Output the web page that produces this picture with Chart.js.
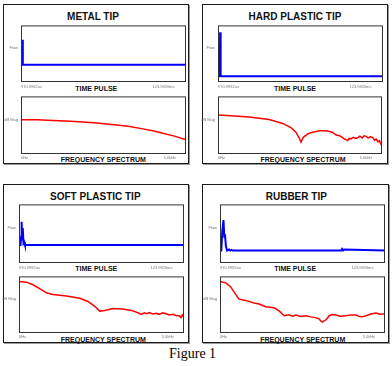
<!DOCTYPE html>
<html><head><meta charset="utf-8">
<script src="https://cdn.jsdelivr.net/npm/chart.js@4.4.0/dist/chart.umd.min.js"></script>
<style>
body{margin:0;width:392px;height:366px;background:#fff;position:relative;overflow:hidden;font-family:"Liberation Sans",Arial,sans-serif}
.panel{position:absolute;border:1px solid #1a1a1a;box-shadow:1px 1px 0 #9a9a9a;box-sizing:border-box}
.t{position:absolute;font-weight:bold;white-space:nowrap;line-height:1;transform:translateX(-50%);color:#111}
canvas{position:absolute}
</style></head><body>
<div class="panel" style="left:3px;top:4px;width:186px;height:160px"></div>
<div class="panel" style="left:202px;top:4px;width:186px;height:160px"></div>
<div class="panel" style="left:3px;top:184px;width:186px;height:159px"></div>
<div class="panel" style="left:202px;top:184px;width:187px;height:159px"></div>
<div id="texts"></div>
<script>
// ---- DATA ----
const panelTitles = ["METAL TIP", "HARD PLASTIC TIP", "SOFT PLASTIC TIP", "RUBBER TIP"];
const timeAxisTitle = "TIME PULSE";
const freqAxisTitle = "FREQUENCY SPECTRUM";
const figureCaption = "Figure 1";
const timeYLabel = "Flow";
const freqYLabel = "dB Mag";
const timeTickLabels = ["970.9982us", "123.9826ms"];
const freqTickLabels = ["0Hz", "5.0kHz"];

// time pulse (x: % of record, y: % of axis height)
const metalTimeX = [0, 0.8, 1.0, 1.2, 1.5, 100];
const metalTimeY = [30.5, 30.5, 74.6, 30.5, 30.5, 30.5];
const hardTimeX = [0, 1.0, 1.3, 1.6, 100];
const hardTimeY = [10.2, 10.2, 88, 10.2, 10.2];
const softTimeX = [0, 0.9, 1.3, 1.6, 1.9, 2.3, 2.7, 3.1, 3.6, 100];
const softTimeY = [30.7, 30.7, 45, 70.5, 40, 59.5, 34, 36, 30.7, 30.7];
const rubberTimeX = [0, 0.8, 1.4, 2.1, 2.6, 3.0, 3.6, 4.3, 5.5, 6.2, 7.0, 7.8, 73.5, 74.0, 74.6, 75.2, 100];
const rubberTimeY = [21.3, 21.3, 55, 73.3, 45, 49, 28, 21.3, 23, 21.3, 22.5, 21.3, 21.3, 24, 21.3, 23, 21.3];

// frequency spectrum (x: % of band, y: relative dB, % of axis height)
const metalFreqX = [0, 10, 19.4, 30, 40, 45.9, 58, 65, 72.1, 80, 86, 93, 100];
const metalFreqY = [59.5, 59.3, 58.3, 57, 55, 53.8, 50.5, 48, 44.5, 40.5, 36.2, 31, 24.5];
const hardFreqX = [0, 7.8, 19, 31.2, 39.4, 44.5, 47.6, 49.6, 50.6, 52, 54.7, 57, 59.8, 62, 65.9, 68, 70, 72, 74.1, 76, 77.1, 78, 79.1, 80, 81.1, 82.5, 84, 85.3, 86.5, 88, 89, 90.4, 91.5, 93, 94.5, 95.5, 96.5, 97.6, 98.5, 99.6];
const hardFreqY = [67.5, 66.5, 64.2, 59.8, 53.1, 45.7, 37.4, 27.3, 20.6, 29, 34.7, 37.5, 39, 40.5, 40.2, 39, 37.4, 33, 31.8, 28.5, 26.3, 25, 23.5, 27, 26.3, 29, 27, 28.5, 31, 28, 31.5, 30.7, 27.5, 30, 28, 24, 26, 21, 23, 15.1];
const softFreqX = [0, 4.5, 8.5, 12.5, 16.6, 20.6, 28.7, 36.8, 41.8, 45.9, 48.9, 51.9, 57, 63, 68.1, 72.1, 74, 76, 77.2, 79, 81, 83.3, 85, 87, 89.3, 91, 93.3, 95, 97.4, 98.2, 99, 99.8];
const softFreqY = [91, 89.8, 85.2, 78.4, 71, 68.1, 65.4, 61.3, 55.7, 47.2, 38.7, 39.9, 43.3, 42.6, 39.9, 35.8, 33, 35.5, 34.1, 36, 33.5, 34.8, 33, 35.5, 34.1, 32, 33, 31, 30.2, 27.3, 31.9, 29];
const rubberFreqX = [0, 3.5, 6.5, 9.1, 11.5, 15.6, 20.6, 23.7, 27.7, 32.8, 35.8, 38.9, 41.9, 44, 46, 49, 52, 55, 57.1, 60.1, 61.2, 62.2, 63.2, 64.2, 66.2, 68, 70.2, 73, 76.3, 79, 82.4, 84.5, 86.4, 88.5, 91.5, 94.5, 97, 99.6];
const rubberFreqY = [91, 88.6, 81.4, 70, 59.8, 57.6, 53, 51.3, 46.3, 44.6, 39, 30.5, 32.2, 29.5, 31.7, 29, 30.5, 28.5, 27.6, 24.9, 21, 19.2, 22, 23.2, 30.5, 32.5, 31.7, 29.5, 30.5, 32, 31.7, 29, 28.8, 30.5, 33.4, 35.1, 33, 33.4];

const timeLabelValue = 60;
const freqLabelValue = 60;
const timeTickValues = [0, 93];
const freqTickValues = [0, 94];

// ---- LAYOUT ----
const FONT = '"Liberation Sans", Arial, sans-serif';
const frame = {
  id: 'frame',
  afterDraw(chart) {
    const a = chart.chartArea, c = chart.ctx;
    c.save(); c.strokeStyle = '#333'; c.lineWidth = 1;
    c.strokeRect(a.left + 0.5, a.top + 0.5, a.right - a.left - 1, a.bottom - a.top - 1);
    c.restore();
  }
};

function makeChart(box, xs, ys, color, lw, yLabel, yVal, xLabels, xVals, xPad) {
  const [pl, pt, pr, pb] = box;
  const cv = document.createElement('canvas');
  const W = pr - pl + 23, H = pb - pt + 12;
  cv.width = W; cv.height = H;
  cv.style.left = (pl - 20) + 'px'; cv.style.top = (pt - 3) + 'px';
  cv.style.width = W + 'px'; cv.style.height = H + 'px';
  document.body.appendChild(cv);
  new Chart(cv, {
    type: 'line',
    data: { datasets: [{ data: xs.map((x, i) => ({ x, y: ys[i] })), borderColor: color, borderWidth: lw, pointRadius: 0, tension: 0, fill: false }] },
    options: {
      responsive: false, animation: false, devicePixelRatio: 1, events: [],
      layout: { padding: { left: 0, top: 3, right: 3, bottom: 0 } },
      plugins: { legend: { display: false }, tooltip: { enabled: false } },
      scales: {
        x: {
          type: 'linear', min: 0, max: 100,
          grid: { display: false, drawTicks: false }, border: { display: false },
          ticks: { autoSkip: false, maxRotation: 0, align: 'inner', padding: xPad, color: '#777', font: { size: 4, family: FONT },
            callback: (v, i) => xLabels[i] },
          afterBuildTicks: s => { s.ticks = xVals.map(v => ({ value: v })); },
          afterFit: s => { s.height = 9; }
        },
        y: {
          min: 0, max: 100,
          grid: { display: false, drawTicks: false }, border: { display: false },
          ticks: { padding: 3, color: '#777', font: { size: 4, family: FONT }, callback: () => yLabel },
          afterBuildTicks: s => { s.ticks = [{ value: yVal }]; },
          afterFit: s => { s.width = 20; }
        }
      }
    },
    plugins: [frame]
  });
}

const BLUE = '#0000ff', RED = '#ff0000';
makeChart([21, 23, 186, 82], metalTimeX, metalTimeY, BLUE, 2, timeYLabel, timeLabelValue, timeTickLabels, timeTickValues, 2);
makeChart([21, 94, 186, 154], metalFreqX, metalFreqY, RED, 1.5, freqYLabel, freqLabelValue, freqTickLabels, freqTickValues, 1);
makeChart([218, 23, 383, 82], hardTimeX, hardTimeY, BLUE, 2, timeYLabel, timeLabelValue, timeTickLabels, timeTickValues, 2);
makeChart([218, 94, 382, 154], hardFreqX, hardFreqY, RED, 1.5, freqYLabel, freqLabelValue, freqTickLabels, freqTickValues, 1);
makeChart([19, 202, 184, 263], softTimeX, softTimeY, BLUE, 2, timeYLabel, timeLabelValue, timeTickLabels, timeTickValues, 2);
makeChart([19, 274, 184, 333], softFreqX, softFreqY, RED, 1.5, freqYLabel, freqLabelValue, freqTickLabels, freqTickValues, 1);
makeChart([220, 202, 385, 263], rubberTimeX, rubberTimeY, BLUE, 2, timeYLabel, timeLabelValue, timeTickLabels, timeTickValues, 2);
makeChart([220, 274, 385, 333], rubberFreqX, rubberFreqY, RED, 1.5, freqYLabel, freqLabelValue, freqTickLabels, freqTickValues, 1);

// text labels (real text)
const tx = document.getElementById('texts');
function addText(str, cx, top, size, extra) {
  const d = document.createElement('div');
  d.className = 't'; d.textContent = str;
  d.style.left = cx + 'px'; d.style.top = top + 'px'; d.style.fontSize = size + 'px';
  if (extra) Object.assign(d.style, extra);
  tx.appendChild(d);
}
addText(panelTitles[0], 93, 12, 10);
addText(panelTitles[1], 295, 12, 10);
addText(panelTitles[2], 95.3, 192, 10);
addText(panelTitles[3], 296.3, 192, 10);
addText(timeAxisTitle, 96.3, 85.1, 7);
addText(timeAxisTitle, 295, 85.1, 7);
addText(timeAxisTitle, 96.3, 265.1, 7);
addText(timeAxisTitle, 295.2, 265.1, 7);
addText(freqAxisTitle, 103.3, 155.8, 7);
addText(freqAxisTitle, 303, 155.8, 7);
addText(freqAxisTitle, 103.3, 335.8, 7);
addText(freqAxisTitle, 302.7, 335.8, 7);
addText(figureCaption, 192.6, 347, 14, { fontWeight: 'normal', fontFamily: '"Liberation Serif","Times New Roman",serif', color: '#000' });
</script>
</body></html>
